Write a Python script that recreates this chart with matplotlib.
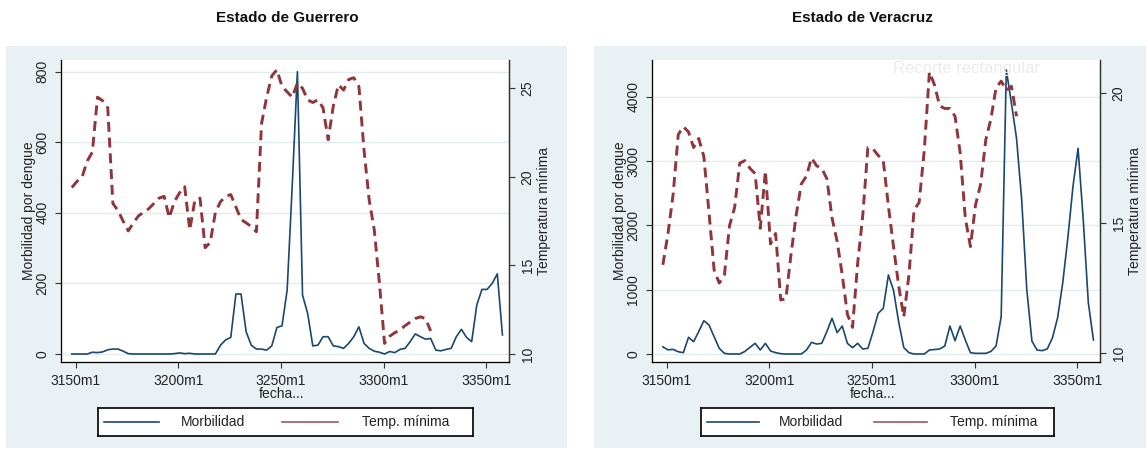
import numpy as np
import matplotlib
matplotlib.use('Agg')
import matplotlib.pyplot as plt
from matplotlib.patches import Rectangle
from matplotlib.lines import Line2D

plt.rcParams['font.family'] = ['Liberation Sans', 'DejaVu Sans']

# fecha (monthly index shown as "NNNNm1")
fecha = np.arange(3148, 3358.5, 2.5)
xticks = [3150, 3200, 3250, 3300, 3350]
xticklabels = ['3150m1', '3200m1', '3250m1', '3300m1', '3350m1']

nan = np.nan

# Guerrero
morb_gro = [0, 0, 0, 0, 5, 4, 6, 12, 14, 14,
            8, 1, 0, 0, 0, 0, 0, 0, 0, 0,
            1, 3, 1, 2, 0, 0, 0, 0, 0, 25,
            40, 47, 170, 170, 63, 25, 14, 14, 11, 23,
            75, 80, 181, 480, 800, 167, 115, 23, 25, 49,
            49, 23, 21, 16, 30, 49, 77, 30, 16, 8,
            5, 0, 7, 4, 13, 16, 35, 57, 49, 42,
            44, 11, 9, 13, 16, 49, 70, 47, 35, 139,
            183, 183, 200, 227, 54]
temp_gro = [19.4, 19.75, 20.0, 20.9, 21.4, 24.5, 24.3, 23.9, 18.5, 18.1,
            17.5, 16.95, 17.4, 17.8, 18.0, 18.2, 18.5, 18.8, 18.9, 17.7,
            18.6, 19.1, 19.45, 17.0, 18.7, 18.8, 16.0, 16.3, 18.0, 18.6,
            18.9, 19.0, 18.3, 17.6, 17.4, 17.2, 16.9, 23.0, 24.5, 25.7,
            26.05, 25.1, 24.8, 24.5, 25.3, 25.0, 24.35, 24.2, 24.35, 23.9,
            22.1, 24.0, 25.2, 24.9, 25.5, 25.6, 25.1, 21.5, 18.7, 17.0,
            14.0, 10.6, 11.0, 11.2, 11.35, 11.6, 11.8, 12.0, 12.1, 12.0,
            11.3, nan, nan, nan, nan, nan, nan, nan, nan, nan,
            nan, nan, nan, nan, nan]

# Veracruz
morb_ver = [110, 65, 72, 35, 21, 259, 192, 350, 518, 451,
            270, 88, 10, 0, 0, 0, 40, 104, 166, 62,
            166, 47, 21, 5, 0, 0, 0, 0, 60, 181,
            155, 166, 350, 555, 332, 435, 166, 98, 166, 78,
            88, 347, 632, 710, 1229, 990, 500, 100, 21, 0,
            0, 0, 62, 70, 78, 124, 435, 207, 435, 218,
            21, 10, 10, 10, 40, 124, 580, 4417, 3900, 3350,
            2400, 1000, 200, 62, 52, 80, 250, 560, 1100, 1800,
            2600, 3199, 2100, 800, 218]
temp_ver = [13.4, 14.6, 16.1, 18.4, 18.7, 18.5, 17.9, 18.25, 17.55, 15.4,
            13.2, 12.7, 13.0, 14.9, 15.6, 17.3, 17.4, 17.1, 16.9, 14.8,
            17.0, 14.2, 14.6, 12.05, 12.1, 13.8, 15.3, 16.5, 16.8, 17.5,
            17.2, 17.1, 16.7, 15.2, 14.3, 13.0, 11.5, 11.0, 13.45, 15.3,
            17.9, 17.85, 17.6, 17.4, 15.65, 14.1, 12.6, 11.4, 13.0, 15.5,
            15.8, 17.8, 20.8, 20.3, 19.5, 19.4, 19.4, 19.1, 17.7, 15.2,
            14.1, 15.7, 16.5, 18.2, 19.0, 20.2, 20.45, 20.1, 20.25, 19.1,
            nan, nan, nan, nan, nan, nan, nan, nan, nan, nan,
            nan, nan, nan, nan, nan]

navy = '#1a476f'
maroon = '#90353b'
bg = '#eaf1f4'
W, H = 1146, 451


def box(l, t, r, b):
    return [l / W, 1 - b / H, (r - l) / W, (b - t) / H]


fig = plt.figure(figsize=(W / 100, H / 100), dpi=100)

panels = [
    dict(title='Estado de Guerrero', tx=287, bgbox=(6, 46, 567, 448),
         axbox=(61, 60, 509, 362.3), legbox=(98, 408, 473, 436),
         morb=morb_gro, temp=temp_gro,
         ylim=(-23.5, 833), yticks=[0, 200, 400, 600, 800],
         y2lim=(9.53, 26.6), y2ticks=[10, 15, 20, 25]),
    dict(title='Estado de Veracruz', tx=862, bgbox=(594, 46, 1146, 448),
         axbox=(652, 60, 1100, 362.3), legbox=(701, 408, 1054, 436),
         morb=morb_ver, temp=temp_ver,
         ylim=(-129, 4572), yticks=[0, 1000, 2000, 3000, 4000],
         y2lim=(9.66, 21.26), y2ticks=[10, 15, 20]),
]

for p in panels:
    l, t, r, b = p['bgbox']
    fig.add_artist(Rectangle((l / W, 1 - b / H), (r - l) / W, (b - t) / H,
                             transform=fig.transFigure, facecolor=bg,
                             edgecolor='none', zorder=0))
    fig.text(p['tx'] / W, 1 - 18 / H, p['title'], ha='center', va='center',
             fontsize=11, fontweight='bold', color='#111111')

    ax = fig.add_axes(box(*p['axbox']))
    ax.set_facecolor('white')
    ax.plot(fecha, p['morb'], color=navy, lw=1.2, zorder=3)
    ax.set_xlim(3142.7, 3361.2)
    ax.set_ylim(*p['ylim'])
    ax.set_yticks(p['yticks'])
    ax.set_xticks(xticks)
    ax.set_xticklabels(xticklabels)
    ax.yaxis.grid(True, color='#e2ebee', lw=1)
    ax.set_axisbelow(True)
    for s in ['left', 'bottom', 'right']:
        ax.spines[s].set_color('#333333')
        ax.spines[s].set_linewidth(0.9)
    ax.spines['top'].set_visible(False)
    ax.tick_params(axis='both', length=4.3, width=0.8, color='#333333',
                   labelsize=10, labelcolor='#222222', pad=4)
    for lbl in ax.get_yticklabels():
        lbl.set_rotation(90)
        lbl.set_va('center')
    ax.set_ylabel('Morbilidad por dengue', fontsize=10, va='center', color='#222222')
    ax.yaxis.set_label_coords(-0.071, 0.5)
    ax.set_xlabel('fecha...', fontsize=10, va='center', color='#222222')
    ax.xaxis.set_label_coords(0.493, -0.106)

    ax2 = ax.twinx()
    ax2.plot(fecha, p['temp'], color=maroon, lw=2.1, linestyle=(0, (3.4, 2.0)),
             zorder=2)
    ax2.set_ylim(*p['y2lim'])
    ax2.set_yticks(p['y2ticks'])
    ax2.spines['top'].set_visible(False)
    ax2.spines['right'].set_color('#333333')
    ax2.spines['right'].set_linewidth(0.9)
    ax2.tick_params(axis='y', length=4.3, width=0.8, color='#333333',
                    labelsize=10, labelcolor='#222222', pad=4)
    for lbl in ax2.get_yticklabels():
        lbl.set_rotation(90)
        lbl.set_va('center')
    ax2.set_ylabel('Temperatura mínima', fontsize=10, va='center', color='#222222')
    ax2.yaxis.set_label_coords(1.078, 0.5)

    # legend
    lg = fig.add_axes(box(*p['legbox']))
    lg.set_xlim(0, 1)
    lg.set_ylim(0, 1)
    lg.set_xticks([])
    lg.set_yticks([])
    for s in lg.spines.values():
        s.set_color('#111111')
        s.set_linewidth(1.3)
    lg.add_line(Line2D([0.016, 0.163], [0.5, 0.5], color=navy, lw=1.2))
    lg.text(0.222, 0.5, 'Morbilidad', fontsize=10, va='center', ha='left',
            color='#222222')
    lg.add_line(Line2D([0.49, 0.64], [0.5, 0.5], color=maroon, lw=1.2, alpha=0.85))
    lg.text(0.705, 0.5, 'Temp. mínima', fontsize=10, va='center', ha='left',
            color='#222222')

# faint screen-capture overlay seen in the source image
fig.text(893 / W, 1 - 68 / H, 'Recorte rectangular', fontsize=12,
         color='#ececec', va='center', ha='left', zorder=10)

fig.savefig('out.png', dpi=100)
